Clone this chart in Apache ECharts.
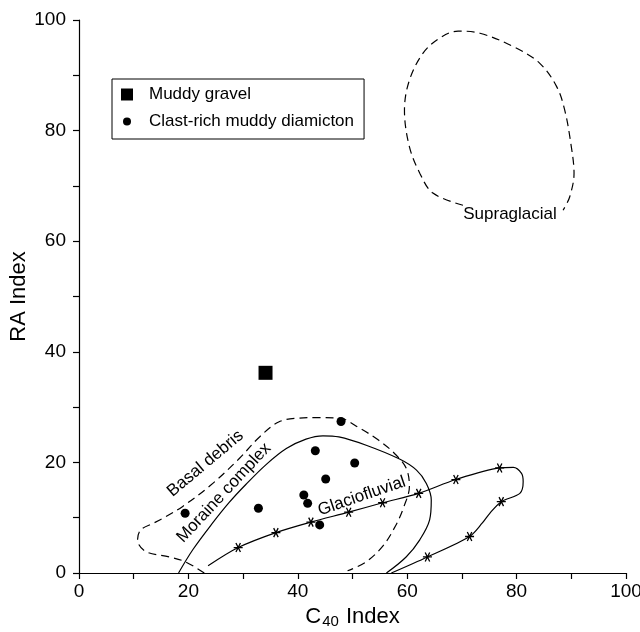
<!DOCTYPE html>
<html>
<head>
<meta charset="utf-8">
<title>RA vs C40 Index</title>
<script src="https://cdn.jsdelivr.net/npm/echarts@6/dist/echarts.min.js"></script>
<style>
    html, body { margin: 0; padding: 0; background: #fff; }
    #main { width: 640px; height: 632px; }
</style>
</head>
<body>
<div id="main"></div>
<script type="text/javascript">
    // sample points
    var muddyGravel = [[34.1, 36.2]];
    var diamicton = [[19.4, 10.8], [32.8, 11.7], [41.1, 14.1], [41.8, 12.6], [44.0, 8.7],
        [43.2, 22.1], [45.1, 17.0], [47.9, 27.4], [50.4, 19.9]];

    // envelopes (x, y)
    var basalDebris = [[22.9, 0], [19.5, 2.0], [16.5, 2.9], [12.2, 3.9], [10.7, 6.0], [11.3, 7.8],
        [13.6, 9.0], [15.9, 10.2], [18.9, 12.0], [24.1, 15.9], [29.3, 20.7], [33.0, 24.6],
        [36.5, 27.3], [40.0, 28.0], [43.5, 28.1], [47.6, 28.0], [51.3, 26.2], [54.8, 24.0],
        [57.6, 21.7], [59.8, 19.0], [60.4, 15.6], [59.4, 12.0], [57.9, 8.6], [55.5, 4.8], [52.3, 1.9], [49.1, 0.4]];
    var moraine = [[18.2, 0], [20.8, 4.2], [24.4, 9.0], [27.5, 12.8], [30.5, 16.0], [34.2, 19.6],
        [37.9, 22.5], [41.5, 24.2], [44.6, 24.8], [47.5, 24.6], [52.5, 23.1], [58.6, 20.6],
        [61.7, 18.6], [63.5, 16.2], [64.4, 13.2], [64.1, 9.6], [62.3, 6.0], [59.8, 2.9], [56.2, 0]];
    // third value: 1 = asterisk marker
    var glaciofluvial = [[23.6, 1.3, 0], [29.1, 4.6, 1], [36.0, 7.3, 1], [42.4, 9.2, 1], [49.3, 11.0, 1],
        [55.5, 12.7, 1], [62.1, 14.4, 1], [68.9, 16.9, 1], [76.9, 19.0, 1], [79.4, 19.1, 0],
        [80.9, 18.0, 0], [81.2, 16.5, 0], [80.6, 14.4, 0], [77.2, 12.9, 1], [75.1, 10.8, 0],
        [73.7, 9.0, 0], [71.4, 6.6, 1], [63.7, 2.9, 1], [57.1, 0, 0]];
    var supraglacial = [[70.2, 66.5], [64.7, 68.7], [62.3, 72.3], [60.4, 77.1], [59.5, 83.7],
        [60.4, 89.1], [62.9, 94.0], [65.9, 96.7], [69.3, 98.0], [73.3, 97.6], [79.4, 95.2],
        [84.2, 92.2], [87.3, 88.0], [88.8, 83.7], [90.0, 77.1], [90.5, 72.3], [89.7, 68.0], [88.5, 65.6]];

    // envelope labels: name, x, y, rotation
    var envLabels = [
        ['Basal debris', 23.1, 19.8, 40],
        ['Moraine complex', 26.5, 14.5, 47],
        ['Glaciofluvial', 51.7, 13.9, 19],
        ['Supraglacial', 78.8, 64.8, 0]
    ];

    var font = "'Liberation Sans', Arial, Helvetica, sans-serif";
    var star = 'path://M-5,0L5,0M-2.5,-4.33L2.5,4.33M-2.5,4.33L2.5,-4.33';

    function xy(arr) {
        return arr.map(function (p) { return [p[0], p[1]]; });
    }

    var chart = echarts.init(document.getElementById('main'));

    var axisCommon = {
        type: 'value',
        min: 0,
        max: 100,
        interval: 10,
        splitLine: { show: false },
        axisLine: { lineStyle: { color: '#000', width: 1.2 } },
        axisTick: { length: 6, inside: false, lineStyle: { color: '#000', width: 1.2 } },
        nameLocation: 'middle',
        nameTextStyle: { color: '#000', fontSize: 22, fontFamily: font }
    };

    var option = {
        backgroundColor: '#fff',
        animation: false,
        textStyle: { fontFamily: font },
        grid: { left: 79, right: 14, top: 20, bottom: 59, containLabel: false, outerBoundsMode: 'none' },
        xAxis: echarts.util.merge({
            name: '{c|C}{sub|40}{c| Index}',
            nameGap: 30,
            nameTextStyle: {
                rich: {
                    c: { fontSize: 22, fontFamily: font, color: '#000' },
                    sub: { fontSize: 15, fontFamily: font, color: '#000', padding: [10, 1, 0, 1] }
                }
            },
            axisLabel: {
                margin: 9, color: '#000', fontSize: 19, fontFamily: font,
                formatter: function (v) { return v % 20 === 0 ? v : ''; }
            }
        }, axisCommon, false),
        yAxis: echarts.util.merge({
            name: 'RA Index',
            nameGap: 49,
            nameMoveOverlap: false,
            axisLabel: {
                margin: 13, color: '#000', fontSize: 19, fontFamily: font,
                formatter: function (v) { return v % 20 === 0 ? v : ''; }
            }
        }, axisCommon, false),
        legend: [
            {
                data: ['Muddy gravel'],
                left: 112, top: 79,
                padding: [7, 113, 36, 9],
                borderColor: '#000', borderWidth: 1,
                itemWidth: 12, itemHeight: 12,
                textStyle: { color: '#000', fontSize: 17, fontFamily: font, padding: [0, 0, 0, 11] }
            },
            {
                data: ['Clast-rich muddy diamicton'],
                left: 123, top: 113,
                padding: 0,
                itemWidth: 8, itemHeight: 8,
                textStyle: { color: '#000', fontSize: 17, fontFamily: font, padding: [0, 0, 0, 13] }
            }
        ],
        series: [
            {
                name: 'Basal debris', type: 'line', data: xy(basalDebris), smooth: 0.35,
                showSymbol: false, silent: true,
                lineStyle: { color: '#000', width: 1.2, type: [8, 5] }
            },
            {
                name: 'Moraine complex', type: 'line', data: xy(moraine), smooth: 0.35,
                showSymbol: false, silent: true,
                lineStyle: { color: '#000', width: 1.2 }
            },
            {
                name: 'Glaciofluvial', type: 'line', data: xy(glaciofluvial), smooth: 0.3,
                showSymbol: false, silent: true,
                lineStyle: { color: '#000', width: 1.2 }
            },
            {
                name: 'Glaciofluvial samples', type: 'scatter', silent: true,
                data: xy(glaciofluvial.filter(function (p) { return p[2] === 1; })),
                symbol: star, symbolSize: 9,
                itemStyle: { color: 'rgba(0,0,0,0)', borderColor: '#000', borderWidth: 1.3, opacity: 1 }
            },
            {
                name: 'Supraglacial', type: 'line', data: xy(supraglacial), smooth: 0.35,
                showSymbol: false, silent: true,
                lineStyle: { color: '#000', width: 1.2, type: [8, 5] }
            },
            {
                name: 'labels', type: 'scatter', symbolSize: 0, silent: true,
                itemStyle: { color: '#000', opacity: 1 },
                data: envLabels.map(function (l) {
                    return {
                        name: l[0], value: [l[1], l[2]],
                        label: { rotate: l[3] }
                    };
                }),
                label: {
                    show: true, position: 'inside', formatter: '{b}',
                    color: '#000', fontSize: 17, fontFamily: font,
                    textBorderWidth: 0, opacity: 1
                }
            },
            {
                name: 'Muddy gravel', type: 'scatter', data: muddyGravel,
                symbol: 'rect', symbolSize: 14,
                itemStyle: { color: '#000', opacity: 1 }
            },
            {
                name: 'Clast-rich muddy diamicton', type: 'scatter', data: diamicton,
                symbol: 'circle', symbolSize: 9,
                itemStyle: { color: '#000', opacity: 1 }
            }
        ]
    };

    chart.setOption(option);
</script>
</body>
</html>
